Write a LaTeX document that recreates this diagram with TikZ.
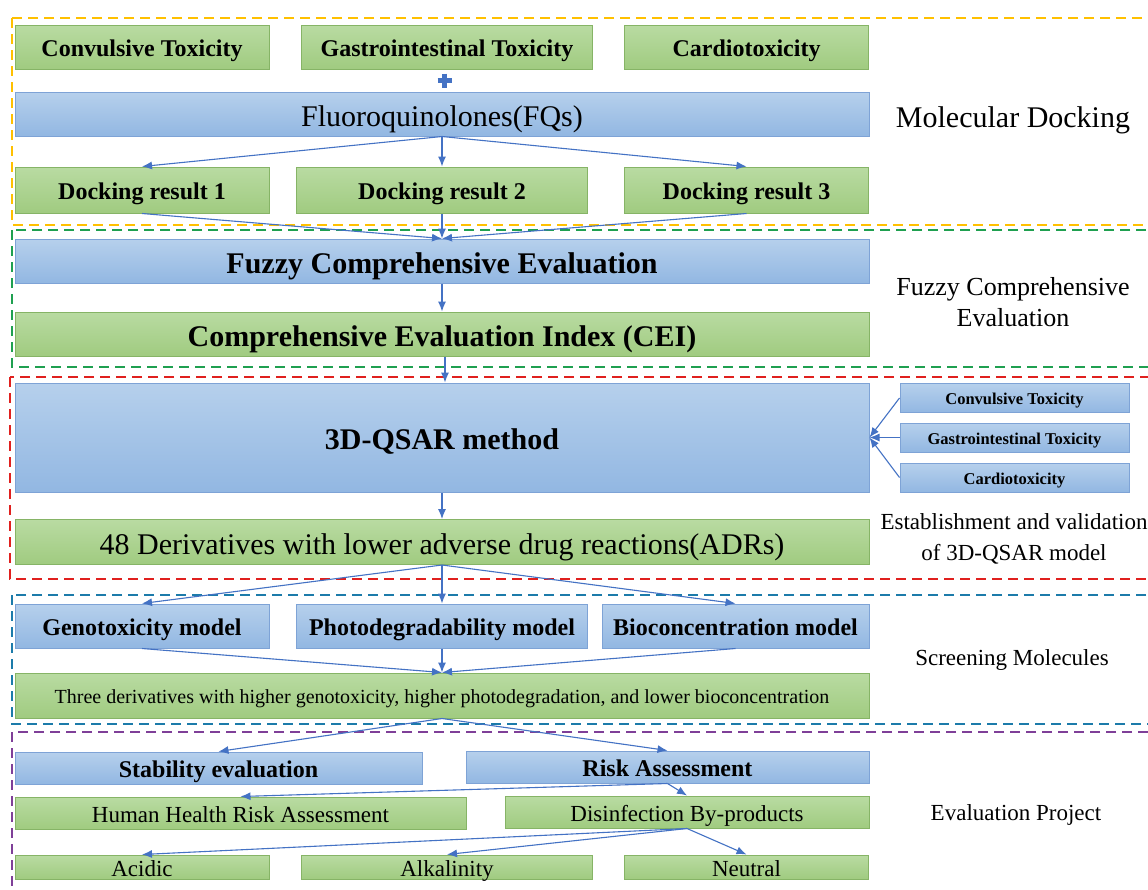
\documentclass[tikz,border=0pt]{standalone}
\usepackage{fontspec}
\setmainfont{Liberation Serif}
\usetikzlibrary{arrows.meta,calc}

\definecolor{greentop}{HTML}{B9DBA2}
\definecolor{greenbot}{HTML}{A0CB80}
\definecolor{greenedge}{HTML}{86B466}
\definecolor{bluetop}{HTML}{B6D0EC}
\definecolor{bluebot}{HTML}{92B7E2}
\definecolor{blueedge}{HTML}{7EA3D6}
\definecolor{arrowblue}{HTML}{4472C4}
\definecolor{frameyellow}{HTML}{FFC000}
\definecolor{framegreen}{HTML}{1FA050}
\definecolor{framered}{HTML}{E0201E}
\definecolor{frameblue}{HTML}{1C7BAA}
\definecolor{framepurple}{HTML}{7F3F98}

\begin{document}
\begin{tikzpicture}[x=1pt, y=-1pt,
	greenbox/.style={draw=greenedge, line width=1pt, top color=greentop, bottom color=greenbot, inner sep=0pt},
	bluebox/.style={draw=blueedge, line width=1pt, top color=bluetop, bottom color=bluebot, inner sep=0pt},
	wh/.style 2 args={minimum width=#1pt, minimum height=#2pt},
	arr/.style={draw=arrowblue, line width=1.1pt, -{Latex[length=10pt,width=8pt]}},
	frame/.style={dash pattern=on 10pt off 6pt, line width=2pt},
	fs/.style={font=\fontsize{#1}{#1}\selectfont, text height={0.8*#1pt}, text depth=0pt},
	bfs/.style={fs=#1, font=\fontsize{#1}{#1}\selectfont\bfseries},
	sidelabel/.style={font=\fontsize{23}{31}\selectfont, align=center}
]

	% ---- page

	\useasboundingbox (0,0) rectangle (1148,889);
	\fill[white] (0,0) rectangle (1148,889);

	% ---- dashed frames

	\draw[frame, frameyellow] (12,18) rectangle (1170,225);
	\draw[frame, framegreen] (12,230) rectangle (1170,367);
	\draw[frame, framered] (10,377) rectangle (1170,579);
	\draw[frame, frameblue] (12,595) rectangle (1170,724);
	\draw[frame, framepurple] (12,732) rectangle (1170,910);

	% ---- molecular docking

	\node[greenbox, bfs=24, wh={254}{44}] (conv) at (142,47) {Convulsive Toxicity};
	\node[greenbox, bfs=24, wh={291}{44}] (gastro) at (447,47) {Gastrointestinal Toxicity};
	\node[greenbox, bfs=24, wh={244}{44}] (cardio) at (746.5,47) {Cardiotoxicity};

	\node[bluebox, fs=30, wh={854}{44}] (fq) at (442,114) {Fluoroquinolones(FQs)};

	\node[greenbox, bfs=24, wh={254}{46}] (dr1) at (142,190) {Docking result 1};
	\node[greenbox, bfs=24, wh={291}{46}] (dr2) at (442,190) {Docking result 2};
	\node[greenbox, bfs=24, wh={244}{46}] (dr3) at (746.5,190) {Docking result 3};

	\coordinate (plus) at ($(gastro.south)!0.5!(fq.north)$);
	\draw[arrowblue, line width=4.5pt] ($(plus)+(-7,0)$) -- ($(plus)+(7,0)$);
	\draw[arrowblue, line width=4.5pt] ($(plus)+(0,-7)$) -- ($(plus)+(0,7)$);

	\node[sidelabel, font=\fontsize{30}{31}\selectfont] (lab1) at (1013,120) {Molecular Docking};

	% ---- fuzzy evaluation

	\node[bluebox, bfs=30, wh={854}{44}] (fuzzy) at (442,261) {Fuzzy Comprehensive Evaluation};
	\node[greenbox, bfs=30, wh={854}{44}] (cei) at (442,334) {Comprehensive Evaluation Index (CEI)};

	\node[sidelabel, font=\fontsize{26}{31}\selectfont] (lab2) at (1013,302) {Fuzzy Comprehensive\\Evaluation};

	% ---- 3D-QSAR

	\node[bluebox, bfs=30, wh={854}{109}] (qsar) at (442,437.5) {3D-QSAR method};

	\node[bluebox, bfs=16.5, wh={229}{29}] (sconv) at (1014.5,398) {Convulsive Toxicity};
	\node[bluebox, bfs=16.5, wh={229}{29}] (sgastro) at (1014.5,437.5) {Gastrointestinal Toxicity};
	\node[bluebox, bfs=16.5, wh={229}{29}] (scardio) at (1014.5,477.5) {Cardiotoxicity};

	\node[greenbox, fs=30, wh={854}{45}] (der) at (442,542) {48 Derivatives with lower adverse drug reactions(ADRs)};

	\node[sidelabel] (lab3) at (1014,539) {Establishment and validation\\of 3D-QSAR model};

	% ---- screening

	\node[bluebox, bfs=24, wh={254}{44}] (geno) at (142,626) {Genotoxicity model};
	\node[bluebox, bfs=24, wh={291}{44}] (photo) at (442,626) {Photodegradability model};
	\node[bluebox, bfs=24, wh={267}{44}] (bio) at (735.5,626) {Bioconcentration model};

	\node[greenbox, fs=20, wh={854}{45}] (three) at (442,695.5)
		{Three derivatives with higher genotoxicity, higher photodegradation, and lower bioconcentration};

	\node[sidelabel] (lab4) at (1012,660) {Screening Molecules};

	% ---- evaluation project

	\node[bluebox, bfs=24, wh={407}{32}] (stab) at (218.5,768) {Stability evaluation};
	\node[bluebox, bfs=24, wh={403}{32}] (risk) at (667.5,767) {Risk Assessment};

	\node[greenbox, fs=23, wh={451}{32}] (human) at (240.5,813) {Human Health Risk Assessment};
	\node[greenbox, fs=23, wh={364}{32}] (disinf) at (687,812) {Disinfection By-products};

	\node[greenbox, fs=23, wh={254}{24}] (acidic) at (142,867) {Acidic};
	\node[greenbox, fs=23, wh={291}{24}] (alk) at (447,867) {Alkalinity};
	\node[greenbox, fs=23, wh={244}{24}] (neutral) at (746.5,867) {Neutral};

	\node[sidelabel] (lab5) at (1016,815) {Evaluation Project};

	% ---- arrows

	\foreach \n in {dr1,dr2,dr3} {
		\draw[arr] (fq.south) -- (\n.north);
		\draw[arr] (\n.south) -- (fuzzy.north);
	}

	\draw[arr] (fuzzy.south) -- (cei.north);
	\draw[arr] ($(cei.south)+(3,0)$) -- ($(qsar.north)+(3,0)$);

	\foreach \n in {sconv,sgastro,scardio} {
		\draw[arr] (\n.west) -- (qsar.east);
	}

	\draw[arr] (qsar.south) -- (der.north);

	\foreach \n in {geno,photo,bio} {
		\draw[arr] (der.south) -- (\n.north);
		\draw[arr] (\n.south) -- (three.north);
	}

	\draw[arr] (three.south) -- (stab.north);
	\draw[arr] (three.south) -- (risk.north);

	\draw[arr] (risk.south) -- (human.north);
	\draw[arr] (risk.south) -- (disinf.north);

	\foreach \n in {acidic,alk,neutral} {
		\draw[arr] (disinf.south) -- (\n.north);
	}

\end{tikzpicture}
\end{document}
